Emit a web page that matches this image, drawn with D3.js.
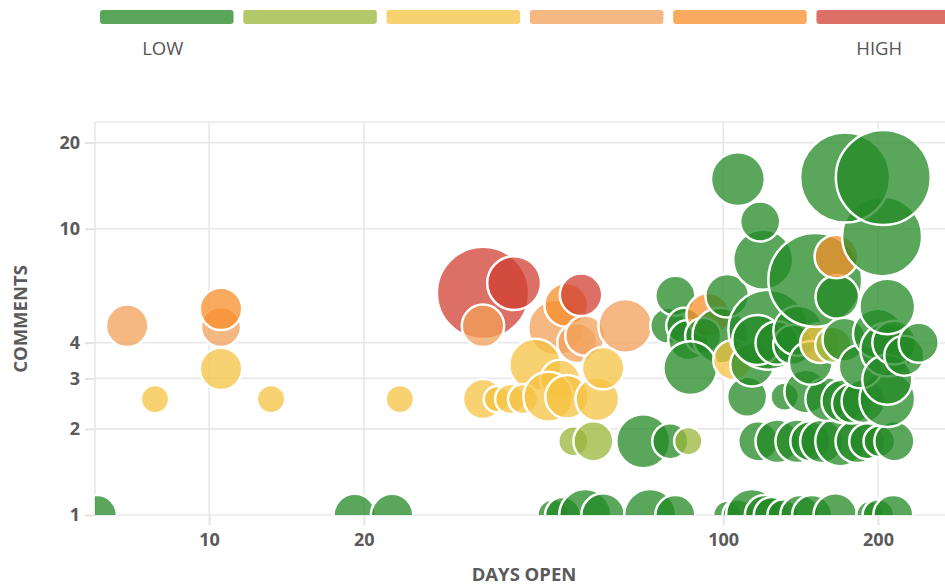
<!DOCTYPE html>
<html>
<head>
<meta charset="utf-8">
<script src="https://cdn.jsdelivr.net/npm/d3@7"></script>
<style>
    body { margin: 0; background: #fff; }
    text { font-family: "Open Sans", sans-serif; }
</style>
</head>
<body>
<svg id="chart" width="945" height="585"></svg>
<script>
// priority levels, low -> high
const levels = [0, 1, 2, 3, 4, 5];
const levelLabels = ["LOW", "", "", "", "", "HIGH"];
const levelColors = ["#238a26", "#98b63a", "#f6c240", "#f3a05a", "#f78e2a", "#d03f33"];

const xTicks = [10, 20, 100, 200];
const yTicks = [1, 2, 3, 4, 10, 20];

// one entry per issue
const daysOpen = [
    6.05, 6.93, 7.85, 10.55, 10.55, 10.55, 13.2, 19.2, 22.7, 23.5,
    46.7, 48.8, 53.9, 58.4, 72.1, 80.7, 101.8, 107, 113.8, 120.5, 124.3, 130.8, 141.2, 148.9, 165.2, 193.2, 200.3, 214.2,
    51.1, 55.9, 69.9, 78.9, 85.5, 117, 127.4, 139.3, 147.7, 155.6, 168.9, 182.3, 190.6, 201.2, 215.2,
    34.1, 39.2, 34.1, 47.3, 49.5, 52.0, 53.9, 52.9, 43.1, 34.1, 36.3, 38.5, 40.8, 48.2, 45.7, 49.7, 64.5, 56.9, 58.4,
    111.3, 131.7, 145, 159.3, 171.2, 178, 187.3, 208.5,
    78.2, 80.7, 84.0, 85.5, 93.5, 91.4, 98.7, 86.3, 101.8, 104.6, 113.8, 119.6, 118, 106.8, 122.4, 116.5, 127.4, 136.8,
    140, 148, 154.4, 163.7, 151, 166.7, 172, 185, 200, 208.5, 208.5, 215, 225, 240, 208.5, 166, 203.7, 172.6, 204.8
];
const comments = [
    1, 4.58, 2.54, 4.54, 5.25, 3.24, 2.54, 1, 1, 2.54,
    1, 1, 1, 1, 1, 1, 1, 1, 1, 1, 1, 1, 1, 1, 1, 1, 1, 1,
    1.81, 1.81, 1.81, 1.81, 1.81, 1.81, 1.81, 1.81, 1.81, 1.81, 1.81, 1.81, 1.81, 1.81, 1.81,
    5.97, 6.46, 4.58, 4.51, 5.42, 3.99, 4.23, 5.88, 3.35, 2.54, 2.54, 2.54, 2.54, 2.97, 2.59, 2.59, 4.58, 2.54, 3.26,
    2.59, 2.59, 2.7, 2.54, 2.5, 2.45, 2.5, 2.54,
    4.58, 5.83, 4.58, 4.09, 5.0, 4.23, 4.23, 3.26, 5.83, 3.48, 3.35, 7.79, 10.6, 14.9, 4.44, 4.09, 3.99, 3.93,
    4.4, 3.4, 3.99, 3.93, 6.63, 5.78, 4.1, 3.3, 4.3, 3.78, 2.97, 4.0, 3.6, 4.0, 5.35, 8.0, 9.4, 15.1, 15.1
];
const issueSize = [
    16, 18, 8, 16, 18, 18, 8, 18, 18, 8,
    10, 13, 27, 19, 27, 16, 8, 10, 27, 16, 13, 10, 16, 16, 19, 8, 10, 16,
    9, 16, 29, 13, 8, 16, 19, 19, 16, 19, 25, 19, 13, 10, 16,
    85, 29, 18, 31, 19, 16, 16, 18, 27, 16, 7, 9, 9, 16, 25, 19, 29, 19, 18,
    16, 8, 19, 19, 19, 16, 19, 31,
    13, 16, 13, 16, 19, 13, 31, 29, 19, 16, 19, 36, 16, 29, 64, 25, 19, 16,
    25, 19, 16, 13, 88, 19, 19, 19, 25, 29, 25, 19, 16, 16, 31, 19, 64, 81, 90
];
const priority = [
    0, 3, 2, 3, 4, 2, 2, 0, 0, 2,
    0, 0, 0, 0, 0, 0, 0, 0, 0, 0, 0, 0, 0, 0, 0, 0, 0, 0,
    1, 1, 0, 0, 1, 0, 0, 0, 0, 0, 0, 0, 0, 0, 0,
    5, 5, 3, 3, 4, 3, 3, 5, 2, 2, 2, 2, 2, 2, 2, 2, 3, 2, 2,
    0, 0, 0, 0, 0, 0, 0, 0,
    0, 0, 0, 0, 4, 0, 0, 0, 0, 2, 0, 0, 0, 0, 0, 0, 0, 0,
    0, 0, 2, 1, 0, 0, 0, 0, 0, 0, 0, 0, 0, 0, 0, 4, 0, 0, 0
];

const issues = daysOpen.map((d, i) => ({
    days: d,
    comments: comments[i],
    size: issueSize[i],
    level: priority[i]
}));

const svg = d3.select("#chart");
const margin = { left: 95, right: 945, top: 122, bottom: 515 };

const xScale = d3.scaleLog().domain([6, 270]).range([margin.left, margin.right]);
const yScale = d3.scaleLog().domain([1, 23.6]).range([margin.bottom, margin.top]);
const rScale = d3.scaleSqrt().domain([0, 100]).range([0, 50]);
const color = d3.scaleOrdinal().domain(levels).range(levelColors);

// legend bars on top
const legendX = d3.scaleBand().domain(levels).range([100, 950]).paddingInner(0.068);

svg.append("g")
    .attr("class", "legend")
    .selectAll("rect")
    .data(levels)
    .enter()
    .append("rect")
    .attr("x", (d) => legendX(d))
    .attr("y", 10)
    .attr("width", legendX.bandwidth())
    .attr("height", 14)
    .attr("rx", 3)
    .attr("fill", (d) => color(d))
    .attr("fill-opacity", 0.75);

svg.append("g")
    .selectAll("text")
    .data(levels.filter((d) => levelLabels[d]))
    .enter()
    .append("text")
    .attr("x", (d) => legendX(d) + legendX.bandwidth() / 2 - 4)
    .attr("y", 55)
    .attr("text-anchor", "middle")
    .attr("font-size", 18.5)
    .attr("fill", "#555")
    .text((d) => levelLabels[d]);

// grid
const grid = svg.append("g").attr("class", "grid").attr("stroke", "#e8e8e8").attr("stroke-width", 1.6);
grid.selectAll(".hline")
    .data(yTicks)
    .enter()
    .append("line")
    .attr("x1", margin.left)
    .attr("x2", margin.right)
    .attr("y1", (d) => yScale(d))
    .attr("y2", (d) => yScale(d));
grid.selectAll(".vline")
    .data(xTicks)
    .enter()
    .append("line")
    .attr("y1", margin.top)
    .attr("y2", margin.bottom)
    .attr("x1", (d) => xScale(d))
    .attr("x2", (d) => xScale(d));
// frame top + left
grid.append("line").attr("x1", margin.left).attr("x2", margin.right).attr("y1", margin.top).attr("y2", margin.top);
grid.append("line").attr("x1", margin.left).attr("x2", margin.left).attr("y1", margin.top).attr("y2", margin.bottom);

// axes
const xAxis = (g) => {
    g.attr("transform", `translate(0,${margin.bottom})`)
        .call(d3.axisBottom(xScale).tickValues(xTicks).tickFormat(d3.format("d")).tickSize(10).tickPadding(8));
    g.select(".domain").remove();
    g.selectAll("line").attr("stroke", "#e3e3e3").attr("stroke-width", 2);
    g.selectAll("text")
        .attr("font-size", 18)
        .attr("font-weight", "bold")
        .attr("font-family", "Open Sans")
        .attr("fill", "#5a5a5a");
};

const yAxis = (g) => {
    g.attr("transform", `translate(${margin.left},0)`)
        .call(d3.axisLeft(yScale).tickValues(yTicks).tickFormat(d3.format("d")).tickSize(10).tickPadding(5));
    g.select(".domain").remove();
    g.selectAll("line").attr("stroke", "#e3e3e3").attr("stroke-width", 2);
    g.selectAll("text")
        .attr("font-size", 18)
        .attr("font-weight", "bold")
        .attr("font-family", "Open Sans")
        .attr("fill", "#5a5a5a");
};

svg.append("g").attr("class", "x-axis").call(xAxis);
svg.append("g").attr("class", "y-axis").call(yAxis);

// axis titles
svg.append("text")
    .attr("x", 524)
    .attr("y", 581)
    .attr("text-anchor", "middle")
    .attr("font-size", 18.5)
    .attr("font-weight", "bold")
    .attr("fill", "#5a5a5a")
    .text("DAYS OPEN");

svg.append("text")
    .attr("transform", "translate(27,319) rotate(-90)")
    .attr("text-anchor", "middle")
    .attr("font-size", 18.5)
    .attr("font-weight", "bold")
    .attr("fill", "#5a5a5a")
    .text("COMMENTS");

// bubbles
svg.append("clipPath")
    .attr("id", "plot-clip")
    .append("rect")
    .attr("x", margin.left)
    .attr("y", margin.top)
    .attr("width", margin.right - margin.left)
    .attr("height", margin.bottom - margin.top);

svg.append("g")
    .attr("clip-path", "url(#plot-clip)")
    .selectAll("circle")
    .data(issues)
    .enter()
    .append("circle")
    .attr("cx", (d) => xScale(d.days))
    .attr("cy", (d) => yScale(d.comments))
    .attr("r", (d) => rScale(d.size))
    .attr("fill", (d) => color(d.level))
    .attr("fill-opacity", 0.75)
    .attr("stroke", "#fff")
    .attr("stroke-width", 2.5);
</script>
</body>
</html>
